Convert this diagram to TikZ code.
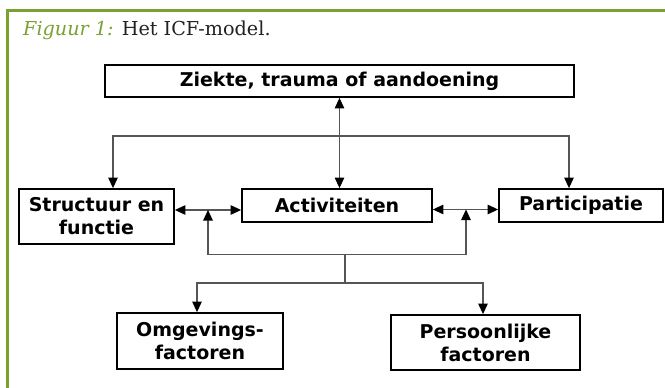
\documentclass[tikz,border=0pt]{standalone}
\usepackage{fontspec}
\usetikzlibrary{arrows.meta,calc}
\newfontfamily\boxfont{DejaVu Sans}
\newfontfamily\titlefont{DejaVu Serif}
\definecolor{icfgreen}{HTML}{7AA232}
\definecolor{conngray}{HTML}{555555}
\definecolor{titlegray}{HTML}{222222}
\tikzset{
  x=1pt,y=-1pt,
  box/.style={draw=black,line width=1.8pt,fill=white,inner sep=0pt,align=center,
    font=\boxfont\bfseries\fontsize{19}{23}\selectfont},
  conn/.style={draw=conngray,line width=1.1pt},
  tip/.style={-{Triangle[width=9.5pt,length=10.5pt,color=black]}},
  tips/.style={{Triangle[width=9.5pt,length=10.5pt,color=black]}-{Triangle[width=9.5pt,length=10.5pt,color=black]}},
}
\begin{document}
\begin{tikzpicture}
\useasboundingbox (0,0) rectangle (665,388);
\fill[white] (0,0) rectangle (665,388);
% green frame
\draw[icfgreen,line width=3pt] (665,10) -- (7.5,10) -- (7.5,388);
% title
\node[anchor=base west,inner sep=0pt,text=titlegray,font=\titlefont\fontsize{19.2}{23}\selectfont] (title) at (23,35)
  {\textcolor{icfgreen}{\textit{Figuur 1:}} Het ICF-model.};
% boxes
\node[box,minimum width=469,minimum height=32] (zk) at (339.5,81) {Ziekte, trauma of aandoening};
\node[box,minimum width=155,minimum height=55] (st) at (96.5,216.5) {Structuur en\\functie};
\node[box,minimum width=190,minimum height=33] (ac) at (337,205.5) {Activiteiten};
\node[box,minimum width=164,minimum height=33] (pa) at (581,205.5) {Participatie};
\node[box,minimum width=166,minimum height=56] (om) at (200,341) {Omgevings-\\factoren};
\node[box,minimum width=189,minimum height=55] (pe) at (485.5,342.5) {Persoonlijke\\factoren};
% helper coordinates
\coordinate (hub) at (339.5,136);
\coordinate (stx) at (113,136);
\coordinate (pax) at (569,136);
\coordinate (m1) at (208,210);
\coordinate (m2) at (466,209.5);
\coordinate (bl) at (208,254.5);
\coordinate (br) at (466,254.5);
\coordinate (bm) at (345,254.5);
\coordinate (lm) at (345,283);
\coordinate (omx) at (197,283);
\coordinate (pex) at (483,283);
% connectors
\draw[conn,tips] (zk.south) -- (zk.south |- ac.north);
\draw[conn,tip] (hub) -- (stx) -- (stx |- st.north);
\draw[conn,tip] (hub) -- (pax) -- (pax |- pa.north);
\draw[conn,tips] (st.east |- m1) -- (ac.west |- m1);
\draw[conn,tips] (ac.east |- m2) -- (pa.west |- m2);
\draw[conn] (bl) -- (br);
\draw[conn,tip] (bl) -- (m1);
\draw[conn,tip] (br) -- (m2);
\draw[conn] (bm) -- (lm);
\draw[conn,tip] (lm) -- (omx) -- (omx |- om.north);
\draw[conn,tip] (lm) -- (pex) -- (pex |- pe.north);
\end{tikzpicture}
\end{document}
